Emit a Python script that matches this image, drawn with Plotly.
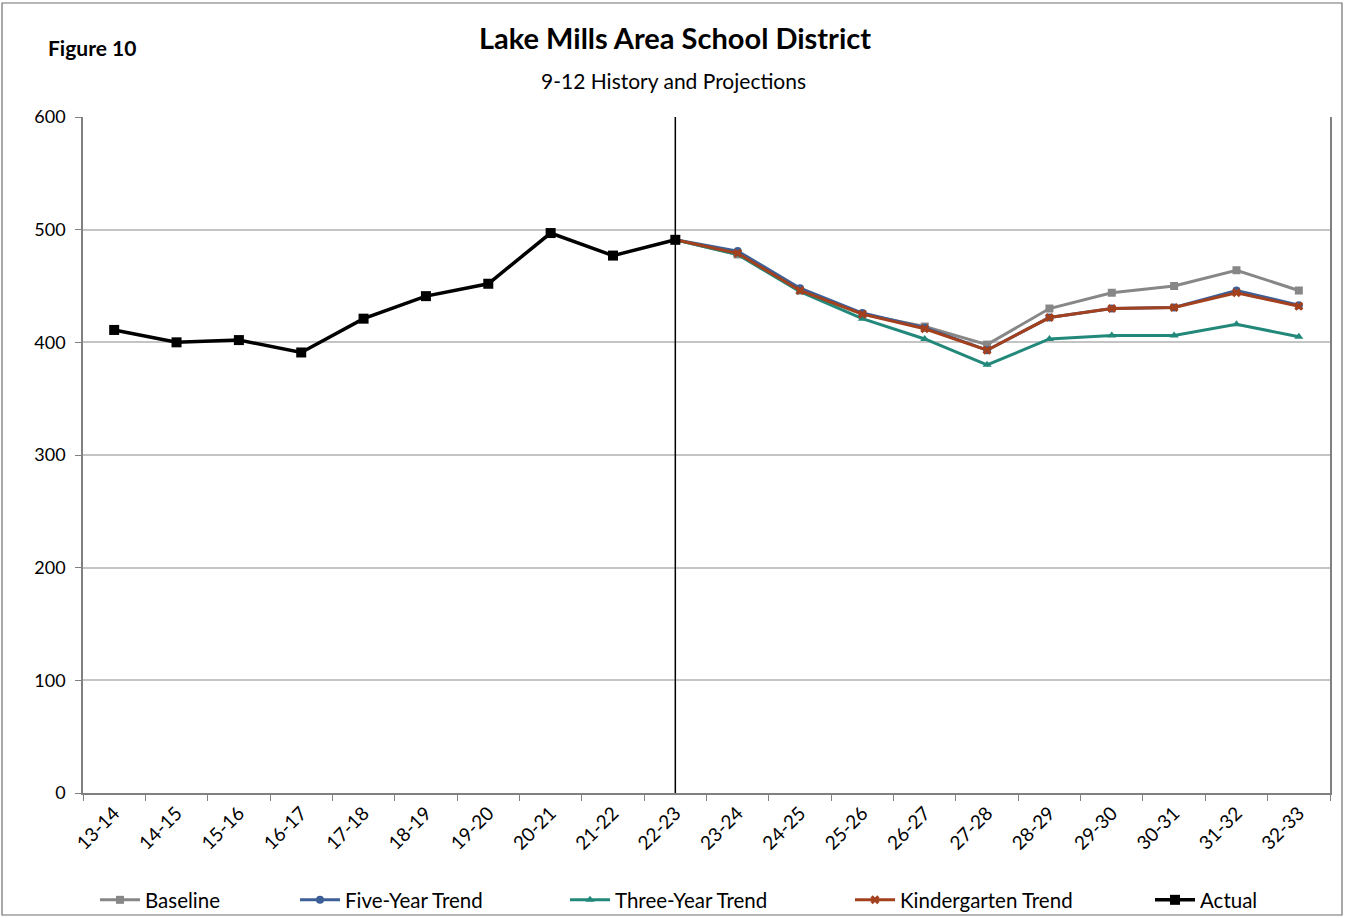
import plotly.graph_objects as go

categories = ["13-14", "14-15", "15-16", "16-17", "17-18", "18-19", "19-20", "20-21", "21-22", "22-23",
              "23-24", "24-25", "25-26", "26-27", "27-28", "28-29", "29-30", "30-31", "31-32", "32-33"]

actual = [411, 400, 402, 391, 421, 441, 452, 497, 477, 491]
proj_cats = categories[9:]
baseline = [491, 478, 446, 425, 414, 398, 430, 444, 450, 464, 446]
five_year = [491, 481, 448, 426, 413, 393, 422, 430, 431, 446, 433]
three_year = [491, 478, 445, 421, 403, 380, 403, 406, 406, 416, 405]
kindergarten = [491, 479, 446, 425, 412, 393, 422, 430, 431, 444, 432]

FONT = "Lato"
L, R, T, B = 83, 15, 117, 125
W, H = 1345, 918
PW, PH = W - L - R, H - T - B

def px(x):
    return (x - L) / PW

def py(y):
    return (H - B - y) / PH

fig = go.Figure()

series = [
    ("Baseline", proj_cats, baseline, "#878787", "square", 8, 3, "legend"),
    ("Five-Year Trend", proj_cats, five_year, "#3C5F98", "circle", 8, 3, "legend2"),
    ("Three-Year Trend", proj_cats, three_year, "#22887A", "triangle-up", 8, 3, "legend3"),
    ("Kindergarten Trend", proj_cats, kindergarten, "#A3401D", "x", 8, 3, "legend4"),
    ("Actual", categories[:10], actual, "#000000", "square", 10, 3.5, "legend5"),
]

for name, xs, ys, color, sym, ms, lw, lg in series:
    fig.add_trace(go.Scatter(
        x=xs, y=ys, name=name, mode="lines+markers",
        line=dict(color=color, width=lw),
        marker=dict(symbol=sym, size=ms, color=color, line=dict(width=0)),
        legend=lg,
    ))

# vertical divider at last actual year
div_idx = categories.index("22-23")
fig.add_shape(type="line", xref="x", yref="y", x0=div_idx, x1=div_idx, y0=0, y1=600,
              line=dict(color="black", width=1.5), layer="above")

# outer chart border
fig.add_shape(type="rect", xref="paper", yref="paper",
              x0=px(2), x1=px(1342), y0=py(915), y1=py(3),
              line=dict(color="#707070", width=1.2))

legend_starts = [100, 300, 570, 855, 1155]
legend_common = dict(orientation="h", yanchor="middle", xanchor="left",
                     font=dict(family=FONT, size=20.5, color="#000000"),
                     bgcolor="rgba(0,0,0,0)", itemwidth=40, borderwidth=0)
legend_layout = {}
for i, xs in enumerate(legend_starts):
    key = "legend" if i == 0 else f"legend{i+1}"
    legend_layout[key] = dict(legend_common, x=px(xs - 5), y=py(900))

fig.update_layout(
    width=W, height=H,
    margin=dict(l=L, r=R, t=T, b=B, autoexpand=False),
    paper_bgcolor="white", plot_bgcolor="white",
    font=dict(family=FONT, color="#000000"),
    showlegend=True,
    xaxis=dict(type="category", categoryorder="array", categoryarray=categories,
               range=[-0.5, len(categories) - 0.5],
               tickson="boundaries", ticks="outside", ticklen=6, tickcolor="#808080",
               tickangle=-45, tickfont=dict(family=FONT, size=19),
               showline=True, linecolor="#808080", linewidth=1.5,
               showgrid=False, zeroline=False, automargin=False),
    yaxis=dict(range=[0, 600], dtick=100, ticks="outside", ticklen=6, tickcolor="#808080",
               tickfont=dict(family=FONT, size=18), ticklabelstandoff=6,
               showline=True, linecolor="#808080", linewidth=1.5, mirror=True,
               showgrid=True, gridcolor="#C4C4C4", gridwidth=1.5, zeroline=False,
               automargin=False),
    annotations=[
        dict(text="<b>Lake Mills Area School District</b>", xref="paper", yref="paper",
             x=px(675), y=py(38), xanchor="center", yanchor="middle", showarrow=False,
             font=dict(family=FONT, size=29)),
        dict(text="9-12 History and Projections", xref="paper", yref="paper",
             x=px(673), y=py(80), xanchor="center", yanchor="middle", showarrow=False,
             font=dict(family=FONT, size=21)),
        dict(text="<b>Figure 10</b>", xref="paper", yref="paper",
             x=px(46), y=py(47), xanchor="left", yanchor="middle", showarrow=False,
             font=dict(family=FONT, size=21)),
    ],
    **legend_layout,
)

fig.write_html("out.html")
